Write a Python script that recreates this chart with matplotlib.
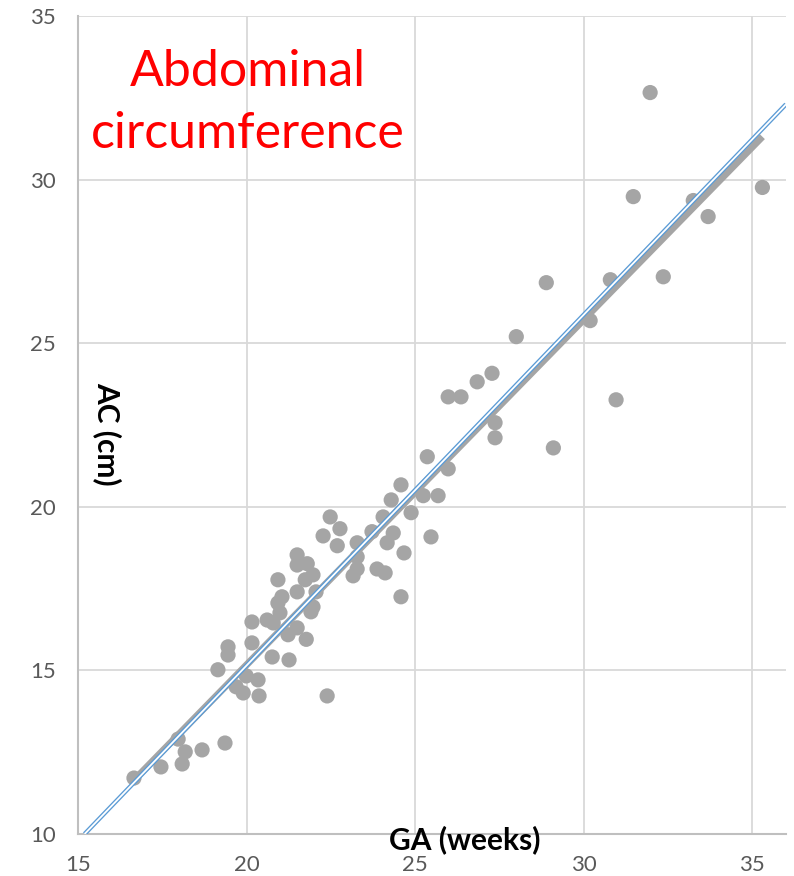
import matplotlib
matplotlib.use("Agg")
import matplotlib.pyplot as plt
import numpy as np

# ---- data ----
ga_weeks = [16.66, 17.46, 17.97, 18.09, 18.18, 18.68, 19.36, 19.15, 19.45, 19.45,
            19.69, 19.90, 19.99, 20.34, 20.37, 20.16, 20.16, 20.61, 20.79, 20.76,
            21.26, 21.23, 21.50, 21.77, 20.99, 20.93, 21.05, 20.93, 21.50, 22.06,
            21.97, 21.91, 21.74, 21.97, 21.50, 21.80, 21.50, 22.39, 22.27, 22.48,
            22.77, 22.69, 23.28, 23.28, 23.28, 23.16, 23.72, 23.87, 24.11, 24.17,
            24.35, 24.05, 24.29, 24.67, 24.58, 24.58, 24.88, 25.24, 25.68, 25.47,
            25.36, 25.98, 25.98, 26.36, 26.84, 27.28, 27.37, 27.37, 28.00, 28.89,
            29.10, 30.19, 30.79, 30.96, 31.47, 31.97, 32.36, 33.25, 33.69, 35.30]
ac_cm = [11.71, 12.05, 12.90, 12.14, 12.51, 12.57, 12.78, 15.02, 15.72, 15.47,
         14.50, 14.31, 14.83, 14.71, 14.22, 15.84, 16.48, 16.54, 16.45, 15.41,
         15.32, 16.09, 16.30, 15.95, 16.76, 17.06, 17.25, 17.77, 17.40, 17.40,
         16.94, 16.79, 17.77, 17.92, 18.22, 18.26, 18.53, 14.22, 19.11, 19.69,
         19.33, 18.81, 18.90, 18.47, 18.10, 17.89, 19.24, 18.10, 17.98, 18.90,
         19.20, 19.69, 20.21, 18.59, 17.25, 20.67, 19.82, 20.34, 20.34, 19.08,
         21.53, 21.16, 23.36, 23.36, 23.82, 24.08, 22.57, 22.11, 25.20, 26.85,
         21.80, 25.69, 26.94, 23.27, 29.48, 32.66, 27.03, 29.36, 28.87, 29.76]

# fitted trend line (grey) and reference line (blue): slope, intercept
fit_slope, fit_intercept = 1.055, -5.93
ref_slope, ref_intercept = 1.072, -6.29

x_ticks = [15, 20, 25, 30, 35]
y_ticks = [10, 15, 20, 25, 30, 35]
x_limits = (15, 36)
y_limits = (10, 35)

title_text = "Abdominal\ncircumference"
x_label = "GA (weeks)"
y_label = "AC (cm)"

# ---- figure ----
plt.rcParams['font.family'] = ['Lato', 'DejaVu Sans']
fig = plt.figure(figsize=(7.94, 8.76), dpi=100)
ax = fig.add_axes([78 / 794, 42 / 876, (786 - 78) / 794, (834 - 16) / 876])

ax.set_xlim(*x_limits)
ax.set_ylim(*y_limits)
ax.set_xticks(x_ticks)
ax.set_yticks(y_ticks)
ax.grid(True, color='#D9D9D9', linewidth=1.3, zorder=0)
ax.set_axisbelow(True)
for side in ['top', 'right']:
    ax.spines[side].set_visible(False)
for side in ['left', 'bottom']:
    ax.spines[side].set_color('#BFBFBF')
    ax.spines[side].set_linewidth(1.5)
ax.tick_params(length=0, labelsize=16, labelcolor='#595959')
ax.tick_params(axis='y', pad=16)
ax.tick_params(axis='x', pad=15)

# scatter points
ax.scatter(ga_weeks, ac_cm, s=120, color='#A5A5A5', edgecolors='none', zorder=3)

# grey fitted line over the data range
xf = np.array([min(ga_weeks), max(ga_weeks)])
ax.plot(xf, fit_slope * xf + fit_intercept, color='#A5A5A5', linewidth=5,
        solid_capstyle='butt', zorder=4)

# blue double reference line
x0 = (y_limits[0] - ref_intercept) / ref_slope
xr = np.array([x0, x_limits[1]])
ax.plot(xr, ref_slope * xr + ref_intercept, color='#5B9BD5', linewidth=3.2,
        solid_capstyle='butt', zorder=5)
ax.plot(xr, ref_slope * xr + ref_intercept, color='white', linewidth=1.3,
        solid_capstyle='butt', zorder=6)

# texts
fig.text(248 / 794, 1 - 103 / 876, title_text, color='#FF0000', fontsize=36,
         ha='center', va='center', linespacing=1.45)
fig.text(108 / 794, 1 - 434 / 876, y_label, rotation=270, fontsize=21.5,
         fontweight='bold', ha='center', va='center', color='black')
fig.text(465 / 794, 1 - 840 / 876, x_label, fontsize=21.5, fontweight='bold',
         ha='center', va='center', color='black')

fig.savefig('out.png', dpi=100)
